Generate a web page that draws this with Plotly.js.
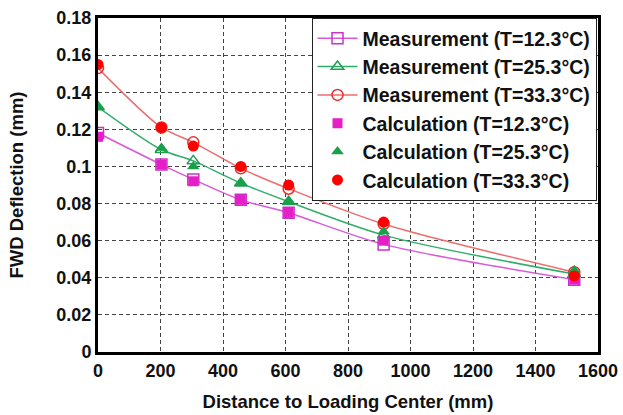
<!DOCTYPE html>
<html><head><meta charset="utf-8">
<script src="https://cdn.plot.ly/plotly-3.0.1.min.js"></script>
<style>html,body{margin:0;padding:0;background:#fff}#chart{width:623px;height:415px}</style>
</head><body><div id="chart"></div>
<script>
var distance = [0, 203, 305, 457, 610, 914, 1524];
var meas12 = [0.118, 0.101, 0.093, 0.082, 0.075, 0.058, 0.039];
var meas25 = [0.132, 0.109, 0.103, 0.091, 0.081, 0.063, 0.042];
var meas33 = [0.153, 0.121, 0.113, 0.099, 0.088, 0.069, 0.043];
var calc12 = [0.116, 0.101, 0.092, 0.082, 0.075, 0.060, 0.039];
var calc25 = [0.132, 0.110, 0.100, 0.091, 0.081, 0.065, 0.044];
var calc33 = [0.155, 0.121, 0.111, 0.100, 0.090, 0.070, 0.041];
var names = ['Measurement (T=12.3°C)','Measurement (T=25.3°C)','Measurement (T=33.3°C)',
             'Calculation (T=12.3°C)','Calculation (T=25.3°C)','Calculation (T=33.3°C)'];

function meas(y, name, lc, mc, sym, g){
  return {x: distance, y: y, name: name, mode: 'lines+markers', legendgroup: g,
    line: {color: lc, width: 1.5, shape: 'spline', smoothing: 0.8},
    marker: {symbol: sym, size: 11, color: mc, line: {width: 1.5}}};
}
function calc(y, name, c, sym, sz, g){
  return {x: distance, y: y, name: name, mode: 'markers', legendgroup: g,
    marker: {symbol: sym, size: sz, color: c}};
}
var data = [
  meas(meas12, names[0], '#d85ad8', '#c832c8', 'square-open', 'a'),
  meas(meas25, names[1], '#2fae6a', '#1f9e55', 'triangle-up-open', 'b'),
  meas(meas33, names[2], '#ee6c6c', '#e83030', 'circle-open', 'c'),
  calc(calc12, names[3], '#e61ec8', 'square', 10, 'd'),
  calc(calc25, names[4], '#19a04a', 'triangle-up', 11, 'e'),
  calc(calc33, names[5], '#ff0000', 'circle', 11, 'f')
];
var fam = 'Liberation Sans, Arial, sans-serif';
var layout = {
  width: 623, height: 415,
  margin: {l: 98, r: 25, t: 18, b: 63},
  paper_bgcolor: '#fff', plot_bgcolor: '#fff',
  font: {family: fam, size: 18, color: '#111', weight: 'bold'},
  showlegend: true,
  legend: {x: 0.997, y: 1.0, xanchor: 'right', yanchor: 'top', bgcolor: '#fff',
    bordercolor: '#222', borderwidth: 1, traceorder: 'grouped', tracegroupgap: 0, itemwidth: 40,
    font: {family: fam, size: 19.5, color: '#111', weight: 'bold'}},
  xaxis: {range: [0, 1600], dtick: 200, tick0: 0, showline: true, mirror: true, linewidth: 3, linecolor: '#000',
    showgrid: true, gridcolor: '#444', griddash: '4px,3px', gridwidth: 1, zeroline: false, ticks: '',
    tickfont: {size: 18},
    title: {text: 'Distance to Loading Center (mm)', font: {size: 18.5}, standoff: 16}},
  yaxis: {range: [0, 0.18], dtick: 0.02, tick0: 0, showline: true, mirror: true, linewidth: 3, linecolor: '#000',
    showgrid: true, gridcolor: '#444', griddash: '4px,3px', gridwidth: 1, zeroline: false, ticks: '',
    tickfont: {size: 18},
    title: {text: 'FWD Deflection (mm)', font: {size: 18.5}, standoff: 28}}
};
Plotly.newPlot('chart', data, layout, {displayModeBar: false, staticPlot: true});
</script></body></html>
